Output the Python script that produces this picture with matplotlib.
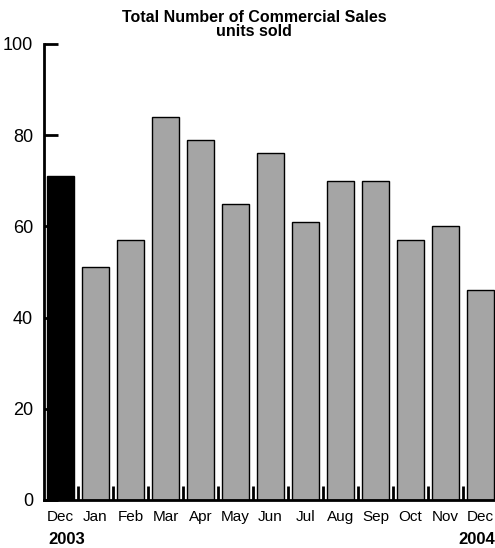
import matplotlib
matplotlib.use("Agg")
import matplotlib.pyplot as plt
from matplotlib import font_manager

months = ['Dec', 'Jan', 'Feb', 'Mar', 'Apr', 'May', 'Jun',
          'Jul', 'Aug', 'Sep', 'Oct', 'Nov', 'Dec']
units_sold = [71, 51, 57, 84, 79, 65, 76, 61, 70, 70, 57, 60, 46]
year_labels = ['2003', '2004']
y_ticks = [0, 20, 40, 60, 80, 100]

names = {f.name for f in font_manager.fontManager.ttflist}
family = 'Liberation Sans Narrow' if 'Liberation Sans Narrow' in names else 'Liberation Sans'
plt.rcParams['font.family'] = [family, 'DejaVu Sans']

W, H = 495, 548
fig = plt.figure(figsize=(W / 100, H / 100), dpi=100)
ax = fig.add_axes([44 / W, 48 / H, (W - 44) / W, 456 / H])

colors = ['black'] + ['#a5a5a5'] * (len(units_sold) - 1)
xs = list(range(len(units_sold)))
ax.bar(xs, units_sold, width=0.77, color=colors, edgecolor='black', linewidth=1)

ax.set_xlim(-0.47, 12.41)
ax.set_ylim(0, 100)
ax.set_yticks(y_ticks)
ax.tick_params(axis='y', direction='in', length=10, width=2, labelsize=13, pad=8)
ax.set_xticks(xs)
ax.set_xticklabels(months)
ax.tick_params(axis='x', length=0, labelsize=11, pad=7)
ax.set_xticks([x + 0.5 for x in xs[:-1]], minor=True)
ax.tick_params(axis='x', which='minor', direction='in', length=10, width=2)

for side in ['top', 'right']:
    ax.spines[side].set_visible(False)
for side in ['left', 'bottom']:
    ax.spines[side].set_linewidth(2)

# year labels under first and last month
fig.text(48 / W, 1 - 540 / H, year_labels[0],
         fontsize=12, fontweight='bold', va='center', ha='left')
fig.text(1.0, 1 - 540 / H, year_labels[1],
         fontsize=12, fontweight='bold', va='center', ha='right')

fig.text(254 / W, 1 - 17 / H, 'Total Number of Commercial Sales',
         ha='center', va='center', fontsize=11.5, fontweight='bold')
fig.text(254 / W, 1 - 32 / H, 'units sold',
         ha='center', va='center', fontsize=11.5, fontweight='bold')

fig.savefig('out.png', dpi=100)
